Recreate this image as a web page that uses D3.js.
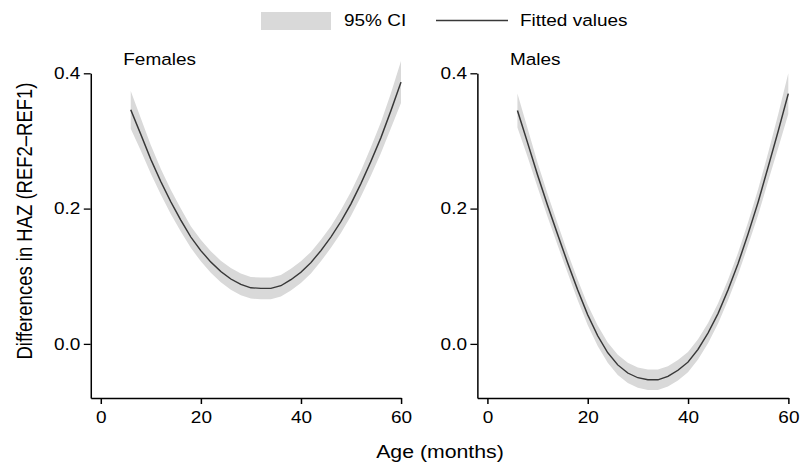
<!DOCTYPE html>
<html>
<head>
<meta charset="utf-8">
<script src="https://cdn.jsdelivr.net/npm/d3@7"></script>
<style>
    body { margin: 0; background: #fff; }
    text { font-family: "Liberation Sans", Arial, Helvetica, sans-serif; fill: #000; }
</style>
</head>
<body>
<div id="chart"></div>
<script>
// ages (months) at which the fitted curve was read
const ages = [6, 8, 10, 12, 14, 16, 18, 20, 22, 24, 26, 28, 30, 32, 34, 36, 38, 40, 42, 44, 46, 48, 50, 52, 54, 56, 58, 60];

const femaleFit = [0.346, 0.310, 0.273, 0.240, 0.210, 0.183, 0.158, 0.138, 0.121, 0.107, 0.096, 0.088, 0.083, 0.082, 0.082, 0.086, 0.095, 0.106, 0.120, 0.138, 0.158, 0.181, 0.207, 0.237, 0.270, 0.305, 0.345, 0.387];
const femaleLo = [0.318, 0.286, 0.252, 0.221, 0.192, 0.166, 0.142, 0.122, 0.105, 0.091, 0.080, 0.072, 0.067, 0.066, 0.066, 0.070, 0.079, 0.090, 0.104, 0.122, 0.142, 0.164, 0.189, 0.218, 0.249, 0.282, 0.319, 0.356];
const femaleHi = [0.374, 0.334, 0.294, 0.259, 0.228, 0.200, 0.174, 0.154, 0.137, 0.123, 0.112, 0.104, 0.099, 0.098, 0.098, 0.102, 0.111, 0.122, 0.136, 0.154, 0.174, 0.198, 0.225, 0.256, 0.291, 0.328, 0.371, 0.418];

const maleFit = [0.345, 0.298, 0.250, 0.205, 0.162, 0.120, 0.080, 0.043, 0.012, -0.013, -0.031, -0.043, -0.050, -0.053, -0.053, -0.048, -0.039, -0.027, -0.008, 0.016, 0.045, 0.080, 0.119, 0.163, 0.210, 0.262, 0.315, 0.370];
const maleLo = [0.320, 0.277, 0.232, 0.188, 0.146, 0.105, 0.065, 0.028, -0.003, -0.028, -0.046, -0.058, -0.065, -0.068, -0.068, -0.063, -0.054, -0.042, -0.023, 0.001, 0.030, 0.065, 0.103, 0.146, 0.191, 0.241, 0.290, 0.340];
const maleHi = [0.370, 0.319, 0.268, 0.222, 0.178, 0.135, 0.095, 0.058, 0.027, 0.002, -0.016, -0.028, -0.035, -0.038, -0.038, -0.033, -0.024, -0.012, 0.007, 0.031, 0.060, 0.095, 0.135, 0.180, 0.229, 0.283, 0.340, 0.400];

const panelNames = ["Females", "Males"];
const xTicks = [0, 20, 40, 60];
const yTicks = [0.0, 0.2, 0.4];
const legendLabels = ["95% CI", "Fitted values"];

// the original graph is stretched sideways, so draw in a narrower box and stretch it
const WIDTH = 800, HEIGHT = 465, STRETCH = 1.15;
const W = WIDTH / STRETCH;
const sx = v => v / STRETCH;

const BAND = "#d9d9d9", LINE = "#383838";

const svg = d3.select("#chart").append("svg")
    .attr("width", WIDTH)
    .attr("height", HEIGHT)
    .attr("viewBox", `0 0 ${W} ${HEIGHT}`)
    .attr("preserveAspectRatio", "none");

const y = d3.scaleLinear().domain([-0.08, 0.4]).range([398, 73.3]);

const panels = [
    { name: panelNames[0], fit: femaleFit, lo: femaleLo, hi: femaleHi, left: 90.7, right: 401 },
    { name: panelNames[1], fit: maleFit, lo: maleLo, hi: maleHi, left: 477.3, right: 788.3 }
];

panels.forEach(p => {
    const x = d3.scaleLinear().domain([-2, 60]).range([sx(p.left), sx(p.right)]);
    const g = svg.append("g");

    const rows = ages.map((a, i) => ({ age: a, fit: p.fit[i], lo: p.lo[i], hi: p.hi[i] }));

    // confidence band
    g.append("path")
        .datum(rows)
        .attr("fill", BAND)
        .attr("d", d3.area().x(d => x(d.age)).y0(d => y(d.lo)).y1(d => y(d.hi)));

    // fitted line
    g.append("path")
        .datum(rows)
        .attr("fill", "none")
        .attr("stroke", LINE)
        .attr("stroke-width", 1.3)
        .attr("d", d3.line().x(d => x(d.age)).y(d => y(d.fit)));

    // axes
    const yAxis = g.append("g")
        .attr("transform", `translate(${sx(p.left)},0)`)
        .call(d3.axisLeft(y).tickValues(yTicks).tickFormat(d3.format(".1f"))
            .tickSize(6).tickSizeOuter(0).tickPadding(3));
    const xAxis = g.append("g")
        .attr("transform", `translate(0,${y.range()[0]})`)
        .call(d3.axisBottom(x).tickValues(xTicks).tickFormat(d3.format("d"))
            .tickSize(6).tickSizeOuter(0).tickPadding(7));
    [yAxis, xAxis].forEach(a => {
        a.attr("font-size", 16.5).attr("font-family", null);
        a.selectAll("path, line").attr("stroke", "#000").attr("stroke-width", 1.3);
    });

    // panel title
    g.append("text")
        .attr("x", sx(p.left + 32.6))
        .attr("y", 65)
        .attr("font-size", 16.5)
        .text(p.name);
});

// axis titles
svg.append("text")
    .attr("x", sx(440))
    .attr("y", 458)
    .attr("text-anchor", "middle")
    .attr("font-size", 18.5)
    .text("Age (months)");

svg.append("text")
    .attr("transform", `translate(${sx(31.5)},221) rotate(-90)`)
    .attr("text-anchor", "middle")
    .attr("font-size", 18.5)
    .text("Differences in HAZ (REF2–REF1)");

// legend
const legend = svg.append("g");
legend.append("rect")
    .attr("x", sx(261)).attr("y", 12)
    .attr("width", sx(70)).attr("height", 18)
    .attr("fill", BAND);
legend.append("text")
    .attr("x", sx(344)).attr("y", 26.5)
    .attr("font-size", 16.5)
    .text(legendLabels[0]);
legend.append("line")
    .attr("x1", sx(436)).attr("x2", sx(508))
    .attr("y1", 20.5).attr("y2", 20.5)
    .attr("stroke", LINE).attr("stroke-width", 1.3);
legend.append("text")
    .attr("x", sx(520)).attr("y", 26.5)
    .attr("font-size", 16.5)
    .text(legendLabels[1]);
</script>
</body>
</html>
